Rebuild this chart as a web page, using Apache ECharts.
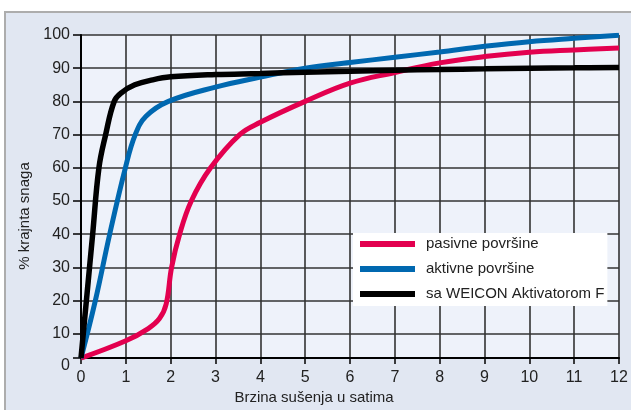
<!DOCTYPE html>
<html>
<head>
<meta charset="utf-8">
<script src="https://cdn.jsdelivr.net/npm/echarts@6/dist/echarts.min.js"></script>
<style>
  html, body { margin: 0; padding: 0; background: #fff; }
  #panel { position: absolute; left: 4px; top: 11px; width: 625px; height: 397px;
           background: #e1e7f2; border-left: 2px solid #adadad; border-top: 2px solid #adadad; }
  #main { position: absolute; left: 0; top: 0; width: 631px; height: 410px; }
</style>
</head>
<body>
<div id="panel"></div>
<div id="main"></div>
<script>
// podaci očitani sa slike: [sati, % krajnje snage]
const seriesNames = ['pasivne površine', 'aktivne površine', 'sa WEICON Aktivatorom F'];
const seriesColors = ['#e3004f', '#0068b0', '#000000'];

const pasivne = [
  [0, 2.7], [1, 7.9], [1.5, 11.6], [1.75, 14.6], [1.9, 19],
  [2.02, 30], [2.2, 40], [2.46, 50], [2.89, 60], [3.54, 70], [4, 73.7],
  [5, 80], [6, 85.5], [7, 88.7], [8, 91.6], [9, 93.5], [10, 94.8], [11, 95.5], [12, 96.1]
];
const aktivne = [
  [0, 2.7], [0.32, 20], [0.64, 40], [0.99, 60],
  [1.21, 70], [1.45, 75.5], [1.95, 80], [3, 84.3], [4, 87.3], [5, 90], [6, 91.7],
  [7, 93.3], [8, 94.9], [9, 96.6], [10, 98], [11, 99], [12, 99.9]
];
const aktivator = [
  [0, 2.7], [0.12, 20], [0.26, 40], [0.4, 60],
  [0.55, 70], [0.74, 80], [0.9, 82.6], [1.2, 85], [1.6, 86.5], [2, 87.4], [3, 88.1],
  [4, 88.4], [5, 88.8], [6, 89.1], [7, 89.4], [8, 89.6], [9, 89.8], [10, 90],
  [11, 90.1], [12, 90.2]
];
const yMin = 2.7;
const yTicks = [2.7, 10, 20, 30, 40, 50, 60, 70, 80, 90, 100];

const myChart = echarts.init(document.getElementById('main'));
const font = 'Liberation Sans, Arial, sans-serif';

const option = {
  backgroundColor: 'transparent',
  animation: false,
  color: seriesColors,
  textStyle: { fontFamily: font },
  grid: {
    left: 81, right: 12, top: 35, bottom: 47,
    show: true, backgroundColor: '#eef2fa', borderWidth: 0
  },
  legend: {
    orient: 'vertical',
    left: 353, top: 233,
    backgroundColor: '#ffffff',
    padding: [3, 3, 4, 7],
    itemWidth: 55, itemHeight: 6, itemGap: 9,
    icon: 'rect',
    textStyle: { fontSize: 15, color: '#222', fontFamily: font, lineHeight: 16, padding: [0, 0, 0, 6] },
    data: seriesNames
  },
  xAxis: {
    type: 'value',
    min: 0, max: 12, interval: 1,
    name: 'Brzina sušenja u satima',
    nameLocation: 'middle',
    nameGap: 30,
    nameTextStyle: { fontSize: 15, color: '#222', padding: [0, 72, 0, 0] },
    axisLine: { lineStyle: { color: '#000', width: 2 } },
    axisTick: { show: true, length: 6, lineStyle: { color: '#000', width: 1.5 } },
    axisLabel: { fontSize: 16, color: '#222', margin: 11 },
    splitLine: { show: true, lineStyle: { color: '#333', width: 1.6 } }
  },
  yAxis: {
    type: 'value',
    min: yMin, max: 100,
    name: '% krajnta snaga',
    nameLocation: 'middle',
    nameGap: 47,
    nameTextStyle: { fontSize: 15, color: '#222', padding: [0, 39, 0, 0] },
    axisLine: { show: true, lineStyle: { color: '#000', width: 2 } },
    axisTick: { show: true, length: 8, customValues: yTicks, lineStyle: { color: '#000', width: 1.5 } },
    axisLabel: {
      fontSize: 16, color: '#222', margin: 11, lineHeight: 14,
      customValues: yTicks,
      formatter: function (v) {
        return v < 5 ? '\n0' : String(v);
      }
    },
    splitLine: { show: true, lineStyle: { color: '#333', width: 1.6 } }
  },
  series: [
    {
      name: seriesNames[0], type: 'line', data: pasivne,
      showSymbol: false, smooth: 0.4,
      lineStyle: { color: seriesColors[0], width: 5 },
      itemStyle: { color: seriesColors[0] }
    },
    {
      name: seriesNames[1], type: 'line', data: aktivne,
      showSymbol: false, smooth: 0.4,
      lineStyle: { color: seriesColors[1], width: 5 },
      itemStyle: { color: seriesColors[1] }
    },
    {
      name: seriesNames[2], type: 'line', data: aktivator,
      showSymbol: false, smooth: 0.4,
      lineStyle: { color: seriesColors[2], width: 5.5 },
      itemStyle: { color: seriesColors[2] }
    }
  ]
};
myChart.setOption(option);
</script>
</body>
</html>
